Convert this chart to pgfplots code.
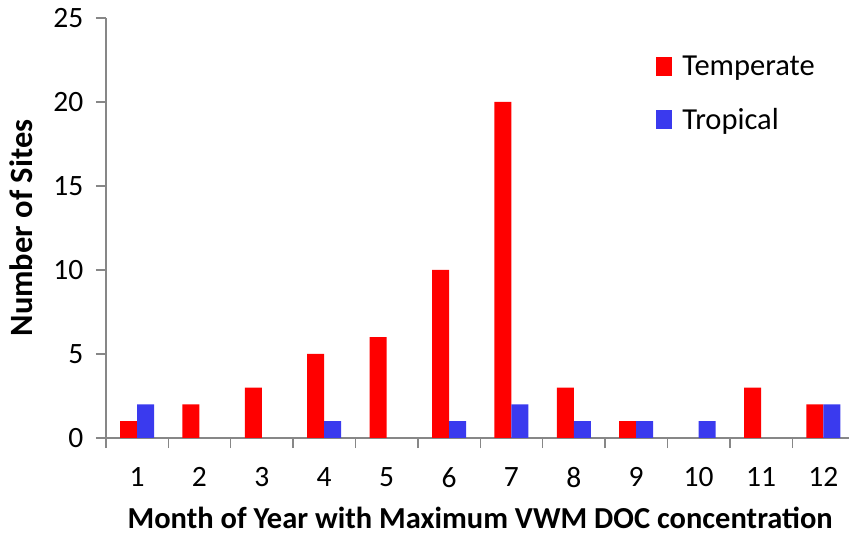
\documentclass[border=0pt]{standalone}
\usepackage{pgfplots}
\pgfplotsset{compat=1.18}
\usepackage{fontspec}
\setmainfont{Carlito}
\definecolor{tred}{RGB}{255,0,0}
\definecolor{tblue}{RGB}{58,58,238}
\definecolor{axgray}{RGB}{135,135,135}
\begin{document}
\begin{tikzpicture}[x=1pt,y=1pt]
\useasboundingbox (0,0) rectangle (849,538);
\begin{axis}[
  at={(105.8pt,100pt)}, anchor=south west,
  scale only axis, width=748.8pt, height=420pt,
  xmin=0.5, xmax=12.5, ymin=0, ymax=25,
  ybar=0pt, bar width=17pt,
  axis x line*=bottom, axis y line*=left,
  axis line style={axgray, line width=1.4pt, -},
  tick style={axgray, line width=1.4pt},
  tick align=outside, major tick length=10pt,
  ytick={0,5,...,25},
  xtick={0.5,1.5,2.5,3.5,4.5,5.5,6.5,7.5,8.5,9.5,10.5,11.5,12.5},
  xticklabels={},
  extra x ticks={1,2,3,4,5,6,7,8,9,10,11,12},
  extra x tick labels={1,2,3,4,5,6,7,8,9,10,11,12},
  extra x tick style={tick style={draw=none}},
  /pgf/number format/assume math mode=true,
  tick label style={font=\fontsize{29.5}{32}\selectfont, black},
  yticklabel style={xshift=-9pt},
  xticklabel style={yshift=-16pt},
  xlabel={\textbf{Month of Year with Maximum VWM DOC concentration}},
  ylabel={\textbf{Number of Sites}},
  xlabel style={font=\fontsize{30.5}{33}\selectfont, at={(rel axis cs:0.5,0)}, yshift=-66pt},
  ylabel style={font=\fontsize{32.5}{35}\selectfont, at={(rel axis cs:0,0.5)}, yshift=70pt},
  legend style={at={(rel axis cs:0.735,0.915)}, anchor=north west, draw=none, fill=none,
    inner sep=0pt, row sep=27pt, font=\fontsize{30.5}{33}\selectfont,
    /tikz/every odd column/.append style={column sep=8pt}},
  legend cell align=left,
  legend image code/.code={\fill[#1] (0pt,-9.5pt) rectangle (16pt,9.5pt);},
]
\addplot[fill=tred, draw=none] coordinates {(1,1) (2,2) (3,3) (4,5) (5,6) (6,10) (7,20) (8,3) (9,1) (11,3) (12,2)};
\addplot[fill=tblue, draw=none] coordinates {(1,2) (4,1) (6,1) (7,2) (8,1) (9,1) (10,1) (12,2)};
\legend{Temperate, Tropical}
\end{axis}
\end{tikzpicture}
\end{document}
